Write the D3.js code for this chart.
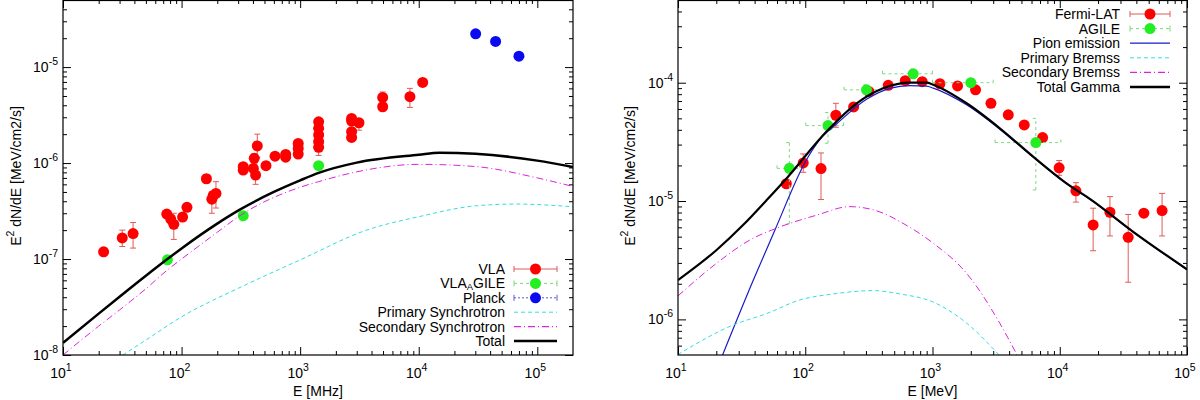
<!DOCTYPE html>
<html>
<head>
<meta charset="utf-8">
<script src="https://cdn.jsdelivr.net/npm/d3@7"></script>
<style>
body { margin: 0; background: #fff; }
svg { display: block; font-family: "Liberation Sans", Arial, Helvetica, sans-serif; }
</style>
</head>
<body>
<svg id="chart" width="1200" height="400"></svg>
<script>
// ---------- left panel (radio) data ----------
const vlaE  = [22, 31.6, 39, 75, 81, 86, 102, 111, 162, 180, 185, 195, 331, 331, 410, 435, 403, 421, 515, 614, 755, 755,
               963, 963, 963, 1432, 1432, 1432, 1432, 1432, 2716, 2716, 3133, 2716, 2716, 4966, 4966, 8430, 10800];
const vlaF  = [1.19e-7, 1.66e-7, 1.84e-7, 2.94e-7, 2.61e-7, 2.3e-7, 2.74e-7, 3.46e-7, 6.86e-7, 4.2e-7, 4.6e-7, 4.83e-7,
               9.15e-7, 8.45e-7, 1.12e-6, 1.51e-6, 8.8e-7, 7.5e-7, 9.4e-7, 1.18e-6, 1.23e-6, 1.15e-6,
               1.6e-6, 1.42e-6, 1.24e-6, 2.69e-6, 2.3e-6, 1.96e-6, 1.67e-6, 1.46e-6, 2.92e-6, 2.74e-6, 2.63e-6, 2.12e-6, 1.85e-6,
               4.83e-6, 3.86e-6, 4.91e-6, 6.92e-6];
const vlaLo = [1.08e-7, 1.35e-7, 1.3e-7, 2.7e-7, 2.4e-7, 1.6e-7, 2.5e-7, 3.2e-7, 6.2e-7, 3.0e-7, 4.2e-7, 3.4e-7,
               8.3e-7, 7.7e-7, 1.0e-6, 1.15e-6, 8.0e-7, 6.0e-7, 8.6e-7, 1.1e-6, 1.15e-6, 1.07e-6,
               1.5e-6, 1.33e-6, 1.16e-6, 2.5e-6, 2.15e-6, 1.83e-6, 1.56e-6, 1.2e-6, 2.75e-6, 2.6e-6, 2.2e-6, 1.98e-6, 1.73e-6,
               4.4e-6, 3.6e-6, 3.8e-6, 6.6e-6];
const vlaHi = [1.3e-7, 2.0e-7, 2.4e-7, 3.2e-7, 2.85e-7, 3.0e-7, 3.0e-7, 3.8e-7, 7.6e-7, 5.0e-7, 5.0e-7, 6.4e-7,
               1.0e-6, 9.3e-7, 1.25e-6, 2.0e-6, 9.6e-7, 8.6e-7, 1.02e-6, 1.27e-6, 1.32e-6, 1.23e-6,
               1.72e-6, 1.5e-6, 1.32e-6, 2.9e-6, 2.45e-6, 2.1e-6, 1.78e-6, 1.58e-6, 3.1e-6, 2.9e-6, 2.9e-6, 2.26e-6, 1.97e-6,
               5.5e-6, 4.1e-6, 6.0e-6, 7.2e-6];

const vlaAgileE  = [76, 331, 1432];
const vlaAgileF  = [9.8e-8, 2.83e-7, 9.4e-7];
const vlaAgileLo = [8.9e-8, 2.5e-7, 9.0e-7];
const vlaAgileHi = [1.08e-7, 3.1e-7, 9.9e-7];

const planckE = [30200, 44500, 70000];
const planckF = [2.22e-5, 1.85e-5, 1.30e-5];

const primSyncE = [32, 50, 100, 300, 1000, 3630, 10000, 30800, 66800, 200000];
const primSyncF = [1.0e-8, 1.43e-8, 2.5e-8, 4.95e-8, 9.8e-8, 2.0e-7, 2.76e-7, 3.59e-7, 3.74e-7, 3.5e-7];

const secSyncE = [10, 20, 30, 50, 76, 100, 200, 300, 1000, 1432, 3000, 10000, 30000, 100000, 200000];
const secSyncF = [1.0e-8, 2.0e-8, 2.95e-8, 4.9e-8, 7.7e-8, 1.0e-7, 1.9e-7, 2.75e-7, 5.6e-7, 6.4e-7, 8.1e-7, 9.7e-7, 9.2e-7, 7.0e-7, 5.7e-7];

const totalSyncE = [10, 20, 30, 50, 76, 100, 200, 310, 600, 1000, 1432, 3000, 10000, 15000, 30000, 100000, 200000];
const totalSyncF = [1.34e-8, 2.7e-8, 4.05e-8, 6.7e-8, 1.0e-7, 1.29e-7, 2.34e-7, 3.27e-7, 5.0e-7, 6.6e-7, 7.9e-7, 1.01e-6,
                    1.22e-6, 1.28e-6, 1.25e-6, 1.06e-6, 9.1e-7];

// ---------- right panel (gamma) data ----------
const fermiE  = [71, 96.4, 133, 174, 240, 317, 449, 611, 830, 1143, 1574, 2180, 2880, 3940, 5260, 7330, 9890, 13400,
                 18300, 24800, 34500, 45800, 63700];
const fermiF  = [1.40e-5, 2.10e-5, 1.88e-5, 5.31e-5, 6.24e-5, 8.41e-5, 9.5e-5, 1.04e-4, 1.02e-4, 9.8e-5, 9.4e-5, 8.7e-5,
                 6.7e-5, 5.35e-5, 4.4e-5, 3.44e-5, 1.91e-5, 1.22e-5, 6.28e-6, 8.04e-6, 4.94e-6, 7.9e-6, 8.3e-6];
const fermiLo = [1.32e-5, 1.75e-5, 1.03e-5, 4.2e-5, 5.8e-5, 8.0e-5, 9.2e-5, 1.0e-4, 9.9e-5, 9.5e-5, 9.1e-5, 8.4e-5,
                 6.4e-5, 5.1e-5, 4.2e-5, 3.2e-5, 1.65e-5, 9.8e-6, 3.8e-6, 5.07e-6, 2.06e-6, 7.9e-6, 5.07e-6];
const fermiHi = [1.5e-5, 2.5e-5, 2.55e-5, 6.7e-5, 6.7e-5, 8.8e-5, 9.8e-5, 1.08e-4, 1.05e-4, 1.01e-4, 9.7e-5, 9.0e-5,
                 7.0e-5, 5.6e-5, 4.6e-5, 3.7e-5, 2.2e-5, 1.43e-5, 8.7e-6, 1.09e-5, 7.7e-6, 7.9e-6, 1.16e-5];

const agileE    = [75, 151, 303, 705, 2000, 6490];
const agileF    = [1.89e-5, 4.34e-5, 8.7e-5, 1.19e-4, 1.0e-4, 3.12e-5];
const agileElo  = [60, 101, 202, 405, 1000, 3100];
const agileEhi  = [91, 200, 400, 1000, 3000, 10200];
const agileFlo  = [6.4e-6, 3.08e-5, 8.0e-5, 1.1e-4, 9.3e-5, 1.24e-5];
const agileFhi  = [3.12e-5, 5.6e-5, 9.6e-5, 1.3e-4, 1.07e-4, 5.0e-5];

const pionE = [22.4, 39.1, 57.8, 102, 130, 177, 303, 462, 664, 900, 1014, 1853, 3380, 6180, 11300, 17800, 37800, 100000];
const pionF = [5e-7, 2.15e-6, 5.7e-6, 2.22e-5, 3.3e-5, 4.5e-5, 7.24e-5, 8.97e-5, 9.45e-5, 9.35e-5, 9.0e-5, 6.5e-5,
               4.05e-5, 2.35e-5, 1.4e-5, 1.01e-5, 5.45e-6, 2.63e-6];

const primBremE = [10, 27.2, 49.8, 90.8, 166, 342, 555, 1014, 1853, 3330];
const primBremF = [5.05e-7, 8.97e-7, 1.12e-6, 1.46e-6, 1.64e-6, 1.75e-6, 1.64e-6, 1.40e-6, 9.3e-7, 5e-7];

const secBremE = [10, 20.1, 36.8, 59.6, 123, 224, 410, 555, 1014, 1853, 3380, 4620];
const secBremF = [1.58e-6, 2.98e-6, 4.69e-6, 5.9e-6, 7.6e-6, 8.97e-6, 7.9e-6, 6.7e-6, 4.4e-6, 2.45e-6, 9.27e-7, 5e-7];

const totalGamE = [10, 20.1, 32.6, 49.8, 71.5, 147, 254, 410, 664, 900, 1014, 1853, 3380, 6180, 11300, 17800, 37800, 100000];
const totalGamF = [2.15e-6, 3.86e-6, 6.3e-6, 1.02e-5, 1.56e-5, 3.87e-5, 6.7e-5, 8.97e-5, 1.0e-4, 1.0e-4, 9.6e-5, 6.7e-5,
                   4.12e-5, 2.37e-5, 1.41e-5, 1.02e-5, 5.5e-6, 2.65e-6];

// ---------- colours ----------
const RED = "#ff0000", RED_ERR = "#e05a5a";
const GREEN = "#22ee22", GREEN_ERR = "#7fd87f";
const BLUE = "#0a0af0", BLUE_ERR = "#5a5ad0";
const CYAN = "#33dede", MAGENTA = "#dd22dd", PION = "#1a1ac8";

const svg = d3.select("#chart");

function zipPts(xs, ys) { return xs.map((v, i) => [v, ys[i]]); }

function makePanel(opt) {
  const x = d3.scaleLog().domain(opt.xDomain).range([opt.left, opt.right]);
  const y = d3.scaleLog().domain(opt.yDomain).range([opt.bottom, opt.top]);
  const g = svg.append("g");

  const clipId = "clip-" + opt.id;
  svg.append("clipPath").attr("id", clipId)
    .append("rect")
    .attr("x", opt.left).attr("y", opt.top)
    .attr("width", opt.right - opt.left).attr("height", opt.bottom - opt.top);

  // log ticks: majors at powers of ten, minors at 2..9
  function logTicks(dom) {
    const major = [], minor = [];
    const lo = Math.floor(Math.log10(dom[0])), hi = Math.ceil(Math.log10(dom[1]));
    for (let e = lo; e <= hi; e++) {
      const p = Math.pow(10, e);
      if (p >= dom[0] * 0.999 && p <= dom[1] * 1.001) major.push(p);
      for (let k = 2; k < 10; k++) {
        const v = k * p;
        if (v > dom[0] && v < dom[1]) minor.push(v);
      }
    }
    return {major, minor};
  }
  const xt = logTicks(opt.xDomain), yt = logTicks(opt.yDomain);

  function drawAxis(axisFn, scale, vals, size, transform) {
    g.append("g")
      .attr("transform", transform)
      .call(axisFn(scale).tickValues(vals).tickSize(-size).tickFormat(""))
      .call(a => a.select(".domain").remove())
      .call(a => a.selectAll("line").attr("stroke", "#000"));
  }
  drawAxis(d3.axisBottom, x, xt.major, 8, `translate(0,${opt.bottom})`);
  drawAxis(d3.axisBottom, x, xt.minor, 4, `translate(0,${opt.bottom})`);
  drawAxis(d3.axisTop, x, xt.major, 8, `translate(0,${opt.top})`);
  drawAxis(d3.axisTop, x, xt.minor, 4, `translate(0,${opt.top})`);
  drawAxis(d3.axisLeft, y, yt.major, 8, `translate(${opt.left},0)`);
  drawAxis(d3.axisLeft, y, yt.minor, 4, `translate(${opt.left},0)`);
  drawAxis(d3.axisRight, y, yt.major, 8, `translate(${opt.right},0)`);
  drawAxis(d3.axisRight, y, yt.minor, 4, `translate(${opt.right},0)`);

  // tick labels 10^n
  xt.major.forEach(v => {
    const t = g.append("text")
      .attr("x", x(v) - 2).attr("y", opt.bottom + 23)
      .attr("text-anchor", "middle").attr("font-size", 14);
    t.append("tspan").text("10");
    t.append("tspan").attr("dy", -7).attr("font-size", 10.5).text(Math.round(Math.log10(v)));
  });
  yt.major.forEach(v => {
    const t = g.append("text")
      .attr("x", opt.left - 5).attr("y", y(v) + 5)
      .attr("text-anchor", "end").attr("font-size", 14);
    t.append("tspan").text("10");
    t.append("tspan").attr("dy", -7).attr("font-size", 10.5).text(Math.round(Math.log10(v)));
  });

  // axis titles
  g.append("text")
    .attr("x", (opt.left + opt.right) / 2).attr("y", 396)
    .attr("text-anchor", "middle").attr("font-size", 14)
    .text(opt.xTitle);
  const yt2 = g.append("text")
    .attr("transform", `translate(${opt.yTitleX},176) rotate(-90)`)
    .attr("text-anchor", "middle").attr("font-size", 14);
  yt2.append("tspan").text("E");
  yt2.append("tspan").attr("dy", -7).attr("font-size", 10.5).text("2");
  yt2.append("tspan").attr("dy", 7).text(" dN/dE [MeV/cm2/s]");

  const plot = g.append("g").attr("clip-path", `url(#${clipId})`);

  // point series with error bars
  opt.points.forEach(s => {
    const eg = plot.append("g")
      .attr("stroke", s.errColor).attr("stroke-width", 1)
      .attr("stroke-dasharray", s.dash || null).attr("fill", "none");
    s.E.forEach((e, i) => {
      const cx = x(e), cy = y(s.F[i]);
      if (s.Flo && s.Flo[i] !== s.Fhi[i]) {
        eg.append("line").attr("x1", cx).attr("x2", cx).attr("y1", y(s.Flo[i])).attr("y2", y(s.Fhi[i]));
        [s.Flo[i], s.Fhi[i]].forEach(v =>
          eg.append("line").attr("x1", cx - 3).attr("x2", cx + 3).attr("y1", y(v)).attr("y2", y(v)));
      }
      if (s.Elo) {
        eg.append("line").attr("x1", x(s.Elo[i])).attr("x2", x(s.Ehi[i])).attr("y1", cy).attr("y2", cy);
        [s.Elo[i], s.Ehi[i]].forEach(v =>
          eg.append("line").attr("x1", x(v)).attr("x2", x(v)).attr("y1", cy - 3).attr("y2", cy + 3));
      }
    });
    plot.append("g").selectAll("circle")
      .data(zipPts(s.E, s.F))
      .join("circle")
      .attr("cx", d => x(d[0])).attr("cy", d => y(d[1]))
      .attr("r", 5.5).attr("fill", s.color);
  });

  // model curves
  const line = d3.line().x(d => x(d[0])).y(d => y(d[1])).curve(d3.curveMonotoneX);
  opt.curves.forEach(c => {
    plot.append("path")
      .datum(zipPts(c.E, c.F))
      .attr("d", line)
      .attr("fill", "none")
      .attr("stroke", c.color)
      .attr("stroke-width", c.width)
      .attr("stroke-dasharray", c.dash || null);
  });

  // frame
  g.append("rect")
    .attr("x", opt.left).attr("y", opt.top + 0.5)
    .attr("width", opt.right - opt.left).attr("height", opt.bottom - opt.top - 0.5)
    .attr("fill", "none").attr("stroke", "#000").attr("stroke-width", 1.2);

  // legend
  const lg = g.append("g");
  opt.legend.forEach((it, i) => {
    const cy = opt.legY + i * opt.legStep;
    const t = lg.append("text")
      .attr("x", opt.legTextX).attr("y", cy + 5)
      .attr("text-anchor", "end").attr("font-size", 14);
    if (it.sub) {
      t.append("tspan").text(it.sub[0]);
      t.append("tspan").attr("dy", 2).attr("font-size", 9.5).text(it.sub[1]);
      t.append("tspan").attr("dy", -2).text(it.sub[2]);
    } else {
      t.text(it.label);
    }
    const x1 = opt.legX1, x2 = opt.legX2;
    lg.append("line")
      .attr("x1", x1).attr("x2", x2).attr("y1", cy).attr("y2", cy)
      .attr("stroke", it.line).attr("stroke-width", it.width || 1)
      .attr("stroke-dasharray", it.dash || null);
    if (it.point) {
      [x1, x2].forEach(xx => lg.append("line")
        .attr("x1", xx).attr("x2", xx).attr("y1", cy - 3).attr("y2", cy + 3)
        .attr("stroke", it.line).attr("stroke-width", 1));
      lg.append("circle").attr("cx", (x1 + x2) / 2).attr("cy", cy).attr("r", 5.5).attr("fill", it.point);
    }
  });
}

makePanel({
  id: "radio",
  left: 63, right: 573, top: 0, bottom: 355,
  xDomain: [10, 2e5], yDomain: [1e-8, 5e-5],
  xTitle: "E [MHz]", yTitleX: 21,
  points: [
    {E: vlaE, F: vlaF, Flo: vlaLo, Fhi: vlaHi, color: RED, errColor: RED_ERR},
    {E: vlaAgileE, F: vlaAgileF, Flo: vlaAgileLo, Fhi: vlaAgileHi, color: GREEN, errColor: GREEN_ERR, dash: "3,3"},
    {E: planckE, F: planckF, color: BLUE, errColor: BLUE_ERR}
  ],
  curves: [
    {E: primSyncE, F: primSyncF, color: CYAN, width: 1, dash: "4,3"},
    {E: secSyncE, F: secSyncF, color: MAGENTA, width: 1, dash: "7,3,1,3"},
    {E: totalSyncE, F: totalSyncF, color: "#000", width: 2.5}
  ],
  legend: [
    {label: "VLA", line: RED_ERR, point: RED},
    {sub: ["VLA", "A", "GILE"], line: GREEN_ERR, point: GREEN, dash: "3,3"},
    {label: "Planck", line: BLUE_ERR, point: BLUE, dash: "2,2"},
    {label: "Primary Synchrotron", line: CYAN, dash: "4,3"},
    {label: "Secondary Synchrotron", line: MAGENTA, dash: "7,3,1,3", width: 1.2},
    {label: "Total", line: "#000", width: 2.5}
  ],
  legY: 269, legStep: 14.4, legTextX: 505, legX1: 514, legX2: 557
});

makePanel({
  id: "gamma",
  left: 678, right: 1187, top: 0, bottom: 355,
  xDomain: [10, 1e5], yDomain: [5e-7, 5e-4],
  xTitle: "E [MeV]", yTitleX: 635,
  points: [
    {E: fermiE, F: fermiF, Flo: fermiLo, Fhi: fermiHi, color: RED, errColor: RED_ERR},
    {E: agileE, F: agileF, Flo: agileFlo, Fhi: agileFhi, Elo: agileElo, Ehi: agileEhi, color: GREEN, errColor: GREEN_ERR, dash: "3,3"}
  ],
  curves: [
    {E: pionE, F: pionF, color: PION, width: 1.2},
    {E: primBremE, F: primBremF, color: CYAN, width: 1, dash: "4,3"},
    {E: secBremE, F: secBremF, color: MAGENTA, width: 1, dash: "7,3,1,3"},
    {E: totalGamE, F: totalGamF, color: "#000", width: 2.2}
  ],
  legend: [
    {label: "Fermi-LAT", line: RED_ERR, point: RED},
    {label: "AGILE", line: GREEN_ERR, point: GREEN, dash: "3,3"},
    {label: "Pion emission", line: PION, width: 1.2},
    {label: "Primary Bremss", line: CYAN, dash: "4,3"},
    {label: "Secondary Bremss", line: MAGENTA, dash: "7,3,1,3", width: 1.2},
    {label: "Total Gamma", line: "#000", width: 2.5}
  ],
  legY: 14, legStep: 14.6, legTextX: 1120, legX1: 1130, legX2: 1170
});
</script>
</body>
</html>
